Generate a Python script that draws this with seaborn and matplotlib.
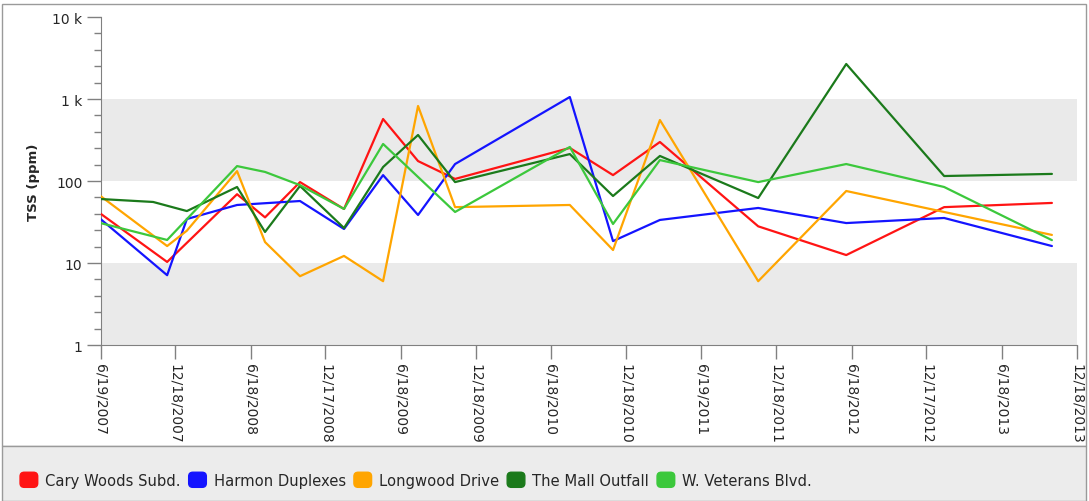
"""TSS (ppm) by monitoring site, log-scale line chart."""

import matplotlib
import matplotlib.pyplot as plt
import matplotlib.ticker as mticker
import pandas as pd
import seaborn as sns
from matplotlib.legend_handler import HandlerPatch
from matplotlib.patches import FancyBboxPatch, Patch, Rectangle

matplotlib.use("Agg")

# ---- data -----------------------------------------------------------------
sites = ["Cary Woods Subd.", "Harmon Duplexes", "Longwood Drive",
         "The Mall Outfall", "W. Veterans Blvd."]
site_colors = ["#ff1414", "#1414ff", "#ffa500", "#1b7a1b", "#3cc83c"]

cary_dates = ["2007-06-19", "2007-11-28", "2008-05-16", "2008-07-23", "2008-10-16",
              "2009-01-31", "2009-05-06", "2009-07-30", "2009-10-28", "2010-08-03",
              "2010-11-16", "2011-03-10", "2011-11-04", "2012-06-05", "2013-01-29",
              "2013-10-18"]
cary_tss = [40, 10.3, 69, 36, 97, 45.6, 570, 175, 106, 253, 118, 299, 28, 12.5, 48, 54]

harmon_dates = ["2007-06-19", "2007-11-28", "2008-01-15", "2008-05-16", "2008-10-16",
                "2009-01-31", "2009-05-06", "2009-07-30", "2009-10-28", "2010-08-03",
                "2010-11-16", "2011-03-10", "2011-11-04", "2012-06-05", "2013-01-29",
                "2013-10-18"]
harmon_tss = [34.4, 7.1, 34.4, 51, 57, 26, 118, 38.5, 161, 1058, 18.5, 33.5, 46.9,
              30.7, 35.4, 16.1]

longwood_dates = ["2007-06-19", "2007-11-28", "2008-01-15", "2008-05-16", "2008-07-23",
                  "2008-10-16", "2009-01-31", "2009-05-06", "2009-07-30", "2009-10-28",
                  "2010-08-03", "2010-11-16", "2011-03-10", "2011-11-04", "2012-06-05",
                  "2013-01-29", "2013-10-18"]
longwood_tss = [65.6, 16.1, 24.8, 132, 18, 6.9, 12.2, 6.0, 822, 48, 51, 14.4, 554,
                6.0, 75.5, 41.9, 22]

mall_dates = ["2007-06-19", "2007-10-25", "2008-01-15", "2008-05-16", "2008-07-23",
              "2008-10-16", "2009-01-31", "2009-05-06", "2009-07-30", "2009-10-28",
              "2010-08-03", "2010-11-16", "2011-03-10", "2011-11-04", "2012-06-05",
              "2013-01-29", "2013-10-18"]
mall_tss = [60.3, 55.5, 43, 84.5, 23.9, 87, 26.7, 148, 364, 97, 213, 65.6, 202, 62,
            2672, 115, 122]

veterans_dates = ["2007-06-19", "2007-11-28", "2008-05-16", "2008-07-23", "2008-10-16",
                  "2009-01-31", "2009-05-06", "2009-10-28", "2010-08-03", "2010-11-16",
                  "2011-03-10", "2011-11-04", "2012-06-05", "2013-01-29", "2013-10-18"]
veterans_tss = [30.7, 19.1, 152, 129, 89, 45.6, 283, 41.9, 260, 29.9, 180, 97, 161,
                84.5, 19]

tick_dates = ["2007-06-19", "2007-12-18", "2008-06-18", "2008-12-17", "2009-06-18",
              "2009-12-18", "2010-06-18", "2010-12-18", "2011-06-19", "2011-12-18",
              "2012-06-18", "2012-12-17", "2013-06-18", "2013-12-18"]
tick_labels = ["6/19/2007", "12/18/2007", "6/18/2008", "12/17/2008", "6/18/2009",
               "12/18/2009", "6/18/2010", "12/18/2010", "6/19/2011", "12/18/2011",
               "6/18/2012", "12/17/2012", "6/18/2013", "12/18/2013"]

y_ticks = [1, 10, 100, 1000, 10000]
y_tick_labels = ["1", "10", "100", "1 k", "10 k"]

# ---- long table for seaborn ----------------------------------------------
frames = []
for site, dates, vals in zip(
    sites,
    [cary_dates, harmon_dates, longwood_dates, mall_dates, veterans_dates],
    [cary_tss, harmon_tss, longwood_tss, mall_tss, veterans_tss],
):
    frames.append(pd.DataFrame({"date": pd.to_datetime(dates), "tss": vals, "site": site}))
df = pd.concat(frames, ignore_index=True)


def _rounded_swatch(legend, orig_handle, xdescent, ydescent, width, height, fontsize):
    return FancyBboxPatch((-xdescent + 1.5, -ydescent + 1.5), width - 3, height - 3,
                          boxstyle="round,pad=1.5,rounding_size=3")


sns.set_style("white")
plt.rcParams["font.family"] = ["DejaVu Sans"]

fig = plt.figure(figsize=(10.89, 5.02), dpi=100)
ax = fig.add_axes([100.5 / 1089, 1 - 346 / 502, (1077 - 100.5) / 1089, 328 / 502])

# outer frame and legend panel
fig.patches.append(Rectangle((2 / 1089, 1 - 447 / 502), 1084 / 1089, 442 / 502,
                             transform=fig.transFigure, facecolor="white",
                             edgecolor="#9a9a9a", lw=1, zorder=-10))
fig.patches.append(Rectangle((2 / 1089, 0), 1084 / 1089, 55 / 502,
                             transform=fig.transFigure, facecolor="#ececec",
                             edgecolor="#9a9a9a", lw=1, zorder=-10))

# alternating bands
ax.axhspan(1, 10, color="#eaeaea", zorder=0, lw=0)
ax.axhspan(100, 1000, color="#eaeaea", zorder=0, lw=0)

sns.lineplot(data=df, x="date", y="tss", hue="site", hue_order=sites,
             palette=site_colors, estimator=None, sort=False, lw=1.6,
             legend=False, ax=ax, zorder=3)

ax.set_yscale("log")
ax.set_ylim(1, 10000)
ax.set_xlim(pd.Timestamp(tick_dates[0]), pd.Timestamp(tick_dates[-1]))
ax.set_yticks(y_ticks)
ax.set_yticklabels(y_tick_labels, fontsize=10)
# four minor ticks per decade, evenly spaced in log
ax.yaxis.set_minor_locator(mticker.FixedLocator(
    [10 ** (d + j / 5) for d in range(4) for j in range(1, 5)]))
ax.yaxis.set_minor_formatter(mticker.NullFormatter())
ax.set_xticks(pd.to_datetime(tick_dates))
ax.set_xticklabels(tick_labels, rotation=270, fontsize=10, va="top", ha="center")
ax.tick_params(axis="both", which="major", direction="out", length=10, width=1,
               color="#808080", left=True, bottom=True, pad=3)
ax.tick_params(axis="y", which="minor", direction="out", length=5, width=1,
               color="#808080", left=True)
ax.set_facecolor("none")
for side in ["top", "right"]:
    ax.spines[side].set_visible(False)
for side in ["left", "bottom"]:
    ax.spines[side].set_color("#808080")
ax.set_xlabel("")
ax.set_ylabel("TSS (ppm)", fontsize=9.5, fontweight="bold", labelpad=9)

# legend with rounded colour swatches
handles = [Patch(facecolor=c, edgecolor=c) for c in site_colors]
fig.legend(handles, sites, loc="center left", bbox_to_anchor=(0.013, 21 / 502),
           ncol=5, frameon=False, fontsize=10.6, handlelength=1.2, handleheight=1.2,
           handletextpad=0.5, columnspacing=0.55, borderaxespad=0,
           handler_map={Patch: HandlerPatch(patch_func=_rounded_swatch)})

fig.savefig("out.png", dpi=100, facecolor="white")
plt.close(fig)
